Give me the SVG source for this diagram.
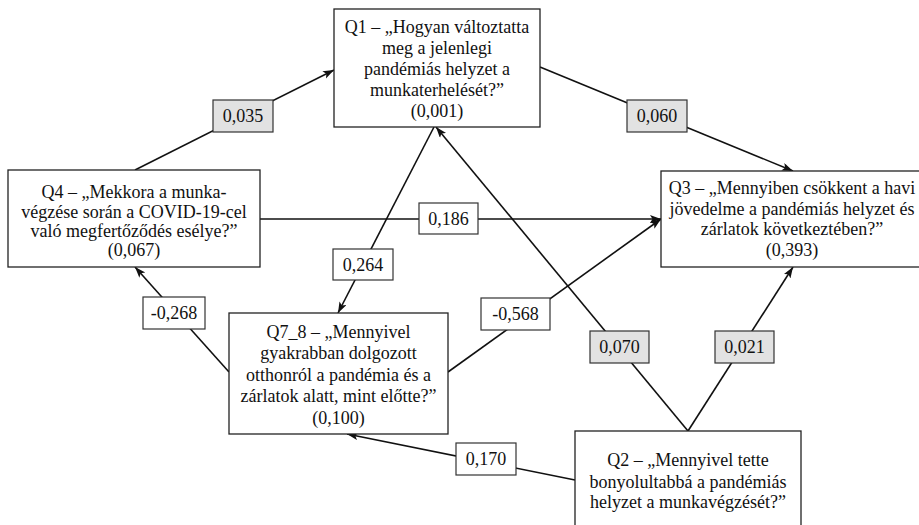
<svg xmlns="http://www.w3.org/2000/svg" width="919" height="525" viewBox="0 0 919 525">
<style>
.box{fill:#fff;stroke:#222;stroke-width:1.3}
.lbl{fill:#fff;stroke:#333;stroke-width:1.2}
.lbg{fill:#e2e2e2;stroke:#333;stroke-width:1.2}
.t{font-family:"Liberation Serif","Times New Roman",serif;font-size:18px;fill:#111;text-anchor:middle}
.e{stroke:#111;stroke-width:1.6;fill:none;marker-end:url(#ah)}
</style>
<defs>
<marker id="ah" markerUnits="userSpaceOnUse" markerWidth="12" markerHeight="10" refX="11" refY="4" orient="auto">
<path d="M0,0 L11,4 L0,8 L2.5,4 z" fill="#111"/>
</marker>
</defs>
<rect width="919" height="525" fill="#fff"/>
<g id="connectors">
<path class="e" d="M135,170 L334,70"/>
<path class="e" d="M540,67 L793,171"/>
<path class="e" d="M260,219 L661,219"/>
<path class="e" d="M434,127 L338,313"/>
<path class="e" d="M688,431 L436,127"/>
<path class="e" d="M688,431 L793,267"/>
<path class="e" d="M448,372 L661,219"/>
<path class="e" d="M229,372 L135,267"/>
<path class="e" d="M575,480 L347,434"/>
</g>
<g id="labels">
<g id="l035"><rect class="lbg" x="213" y="100" width="60" height="32"/><text class="t" x="243" y="122">0,035</text></g>
<g id="l060"><rect class="lbg" x="627" y="100" width="60" height="32"/><text class="t" x="657" y="122">0,060</text></g>
<g id="l186"><rect class="lbl" x="419" y="203" width="59" height="31"/><text class="t" x="448.5" y="225">0,186</text></g>
<g id="l264"><rect class="lbl" x="333" y="249" width="60" height="31"/><text class="t" x="363" y="271">0,264</text></g>
<g id="l268"><rect class="lbl" x="143" y="297" width="62" height="32"/><text class="t" x="174" y="319">-0,268</text></g>
<g id="l568"><rect class="lbl" x="481" y="298" width="69" height="32"/><text class="t" x="515.5" y="320">-0,568</text></g>
<g id="l070"><rect class="lbg" x="590" y="331" width="59" height="32"/><text class="t" x="619.5" y="353">0,070</text></g>
<g id="l021"><rect class="lbg" x="715" y="331" width="59" height="32"/><text class="t" x="744.5" y="353">0,021</text></g>
<g id="l170"><rect class="lbl" x="456" y="443" width="60" height="32"/><text class="t" x="486" y="465">0,170</text></g>
</g>
<g id="Q1">
<rect class="box" x="334" y="9" width="206" height="118"/>
<text class="t" x="437" y="33">Q1 – „Hogyan változtatta</text>
<text class="t" x="437" y="54">meg a jelenlegi</text>
<text class="t" x="437" y="75">pandémiás helyzet a</text>
<text class="t" x="437" y="96">munkaterhelését?”</text>
<text class="t" x="437" y="117">(0,001)</text>
</g>
<g id="Q4">
<rect class="box" x="8" y="170" width="252" height="97"/>
<text class="t" x="134" y="198">Q4 – „Mekkora a munka-</text>
<text class="t" x="134" y="218">végzése során a COVID-19-cel</text>
<text class="t" x="134" y="237">való megfertőződés esélye?”</text>
<text class="t" x="134" y="256">(0,067)</text>
</g>
<g id="Q3">
<rect class="box" x="661" y="171" width="262" height="96"/>
<text class="t" x="792" y="194">Q3 – „Mennyiben csökkent a havi</text>
<text class="t" x="792" y="215">jövedelme a pandémiás helyzet és</text>
<text class="t" x="792" y="235">zárlatok következtében?”</text>
<text class="t" x="792" y="256">(0,393)</text>
</g>
<g id="Q7_8">
<rect class="box" x="229" y="313" width="219" height="121"/>
<text class="t" x="338.5" y="338">Q7_8 – „Mennyivel</text>
<text class="t" x="338.5" y="359">gyakrabban dolgozott</text>
<text class="t" x="338.5" y="381">otthonról a pandémia és a</text>
<text class="t" x="338.5" y="402">zárlatok alatt, mint előtte?”</text>
<text class="t" x="338.5" y="424">(0,100)</text>
</g>
<g id="Q2">
<rect class="box" x="575" y="431" width="226" height="110"/>
<text class="t" x="688" y="466">Q2 – „Mennyivel tette</text>
<text class="t" x="688" y="488">bonyolultabbá a pandémiás</text>
<text class="t" x="688" y="508">helyzet a munkavégzését?”</text>
</g>
</svg>
